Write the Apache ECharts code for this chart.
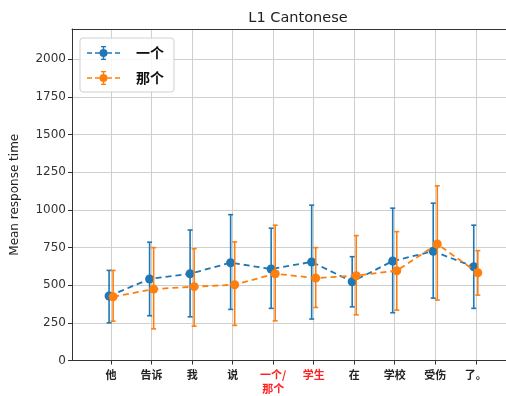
<!DOCTYPE html>
<html>
<head>
<meta charset="utf-8">
<script src="https://cdn.jsdelivr.net/npm/echarts@6/dist/echarts.min.js"></script>
<style>html,body{margin:0;padding:0;background:#fff;}#c{width:506px;height:396px;}</style>
</head>
<body>
<div id="c"></div>
<script>
const categories = ['他', '告诉', '我', '说', '一个/\n那个', '学生', '在', '学校', '受伤', '了。'];
const highlighted = [4, 5];
const yigeMean = [428, 541, 576, 649, 607, 654, 523, 660, 725, 622];
const yigeLow  = [250, 297, 290, 339, 346, 275, 356, 317, 414, 346];
const yigeHigh = [598, 785, 866, 968, 878, 1031, 689, 1011, 1044, 898];
const negeMean = [423, 474, 490, 503, 576, 547, 563, 596, 773, 582];
const negeLow  = [261, 210, 228, 233, 263, 352, 303, 334, 401, 434];
const negeHigh = [598, 749, 742, 787, 898, 749, 829, 855, 1159, 729];
const yTicks = [0, 250, 500, 750, 1000, 1250, 1500, 1750, 2000];

const BLUE = '#1f77b4', ORANGE = '#ff7f0e';
const OFF = 0.05;
const catIdx = categories.map((c, i) => i);

function lineData(mean, off) { return mean.map((v, i) => [i + off, v]); }
function errData(lo, hi, off) { return lo.map((v, i) => [i + off, v, hi[i]]); }

function errRender(color) {
  return function (params, api) {
    const x = api.value(0);
    const p1 = api.coord([x, api.value(1)]);
    const p2 = api.coord([x, api.value(2)]);
    const cw = 2.5;
    const st = { stroke: color, lineWidth: 1.6 };
    return {
      type: 'group',
      children: [
        { type: 'line', shape: { x1: p1[0], y1: p1[1], x2: p2[0], y2: p2[1] }, style: st },
        { type: 'line', shape: { x1: p1[0] - cw, y1: p1[1], x2: p1[0] + cw, y2: p1[1] }, style: st },
        { type: 'line', shape: { x1: p2[0] - cw, y1: p2[1], x2: p2[0] + cw, y2: p2[1] }, style: st }
      ]
    };
  };
}

// legend icon: dashed line + marker + error bar (33 x 14)
const iconPath = 'path://M0,6.25L5,6.25L5,7.75L0,7.75Z M8,6.25L12.5,6.25L12.5,7.75L8,7.75Z M20.5,6.25L25,6.25L25,7.75L20.5,7.75Z M28,6.25L33,6.25L33,7.75L28,7.75Z ' +
  'M16.5,3 A4,4 0 1 1 16.49,3 Z ' +
  'M15.75,0L17.25,0L17.25,3.2L15.75,3.2Z M14,0L19,0L19,1.2L14,1.2Z ' +
  'M15.75,10.8L17.25,10.8L17.25,14L15.75,14Z M14,12.8L19,12.8L19,14L14,14Z';

const chart = echarts.init(document.getElementById('c'), null, { renderer: 'canvas' });
const axisColor = '#333';
const gridColor = '#cfcfcf';
const xMin = -0.965, xMax = 9.746;

chart.setOption({
  animation: false,
  title: {
    text: 'L1 Cantonese', left: 293, top: 6, textAlign: 'center',
    textStyle: { fontFamily: 'DejaVu Sans', fontSize: 14.5, fontWeight: 'normal', color: '#222' }
  },
  grid: { left: 72, right: 0, top: 29, bottom: 35.5, containLabel: false },
  legend: {
    left: 80, top: 38, orient: 'vertical',
    padding: [8, 10, 7, 7],
    itemWidth: 33, itemHeight: 14, itemGap: 11,
    backgroundColor: 'rgba(255,255,255,0.85)',
    borderColor: '#d0d0d0', borderWidth: 1, borderRadius: 3,
    textStyle: { fontFamily: 'Noto Sans CJK SC', fontWeight: 'bold', fontSize: 14, color: '#111', padding: [0, 0, 0, 11] },
    data: [
      { name: '一个', icon: iconPath, itemStyle: { color: BLUE } },
      { name: '那个', icon: iconPath, itemStyle: { color: ORANGE } }
    ]
  },
  xAxis: [{
    type: 'value', min: xMin, max: xMax,
    axisLine: { show: true, onZero: false, lineStyle: { color: axisColor, width: 1 } },
    axisTick: { show: true, length: 4, inside: false, customValues: catIdx, lineStyle: { color: axisColor } },
    splitLine: { show: true, lineStyle: { color: gridColor, width: 1 } },
    axisLabel: {
      customValues: catIdx, margin: 7, lineHeight: 14,
      formatter: function (v) {
        const i = Math.round(v);
        const t = categories[i];
        if (t === undefined) return '';
        const key = highlighted.indexOf(i) >= 0 ? 'r' : 'b';
        return t.split('\n').map(s => '{' + key + '|' + s + '}').join('\n');
      },
      rich: {
        b: { fontFamily: 'Noto Sans CJK SC', fontWeight: 'bold', fontSize: 11, color: '#222', lineHeight: 14 },
        r: { fontFamily: 'Noto Sans CJK SC', fontWeight: 'bold', fontSize: 11, color: '#ff2020', lineHeight: 14 }
      }
    }
  }, {
    type: 'value', position: 'top', min: xMin, max: xMax,
    axisLine: { show: true, onZero: false, lineStyle: { color: axisColor, width: 1 } },
    axisTick: { show: false }, axisLabel: { show: false }, splitLine: { show: false }
  }],
  yAxis: {
    type: 'value', min: 0, max: 2200,
    name: 'Mean response time', nameLocation: 'middle', nameGap: 51, nameRotate: 90,
    nameTextStyle: { fontFamily: 'DejaVu Sans', fontSize: 12, color: '#222' },
    axisLine: { show: true, onZero: false, lineStyle: { color: axisColor, width: 1 } },
    axisTick: { show: true, length: 4, customValues: yTicks, lineStyle: { color: axisColor } },
    splitLine: { show: true, lineStyle: { color: gridColor, width: 1 } },
    axisLabel: {
      customValues: yTicks, margin: 6, fontFamily: 'DejaVu Sans', fontSize: 12, color: '#333',
      formatter: function (v) { return String(v); }
    }
  },
  series: [
    {
      name: '一个', type: 'custom', renderItem: errRender(BLUE), data: errData(yigeLow, yigeHigh, -OFF),
      encode: { x: 0, y: [1, 2] }, z: 2, itemStyle: { color: BLUE }
    },
    {
      name: '一个', type: 'line', data: lineData(yigeMean, -OFF), color: BLUE,
      symbol: 'circle', symbolSize: 9, lineStyle: { type: [6, 4], width: 1.8, color: BLUE },
      itemStyle: { color: BLUE }, z: 3
    },
    {
      name: '那个', type: 'custom', renderItem: errRender(ORANGE), data: errData(negeLow, negeHigh, OFF),
      encode: { x: 0, y: [1, 2] }, z: 4, itemStyle: { color: ORANGE }
    },
    {
      name: '那个', type: 'line', data: lineData(negeMean, OFF), color: ORANGE,
      symbol: 'circle', symbolSize: 9, lineStyle: { type: [6, 4], width: 1.8, color: ORANGE },
      itemStyle: { color: ORANGE }, z: 5
    }
  ]
});
</script>
</body>
</html>
